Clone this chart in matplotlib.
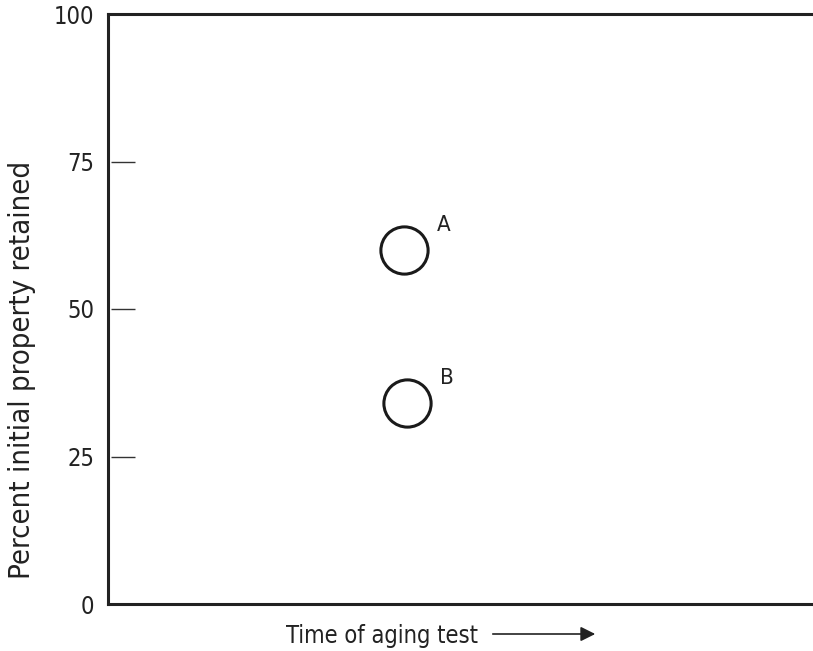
import matplotlib.pyplot as plt

plt.rcParams['font.family'] = ['DejaVu Sans']
plt.rcParams['font.stretch'] = 'condensed'

# data
labels = ["A", "B"]
time_pos = [4.1, 4.14]
retained = [60, 34]
yticks = [0, 25, 50, 75, 100]

fig = plt.figure(figsize=(8.13, 6.51), dpi=100)
ax = fig.add_axes([108 / 813, 1 - 604 / 651, 1 - 108 / 813 + 0.02, (604 - 14) / 651])

ax.plot(time_pos, retained, 'o', ms=34, mfc='none', mec='#1a1a1a', mew=2.2, clip_on=False)
for lab, x, y in zip(labels, time_pos, retained):
    ax.annotate(lab, (x, y), xytext=(29, 18), textcoords='offset points',
                fontsize=16, color='#222222', ha='center', va='center')

ax.set_xlim(0, 10)
ax.set_ylim(0, 100)
ax.set_xticks([])
ax.set_yticks(yticks)
ax.set_yticklabels([str(v) for v in yticks], fontsize=17, color='#222222')
ax.tick_params(axis='y', length=0, pad=10)

# short tick marks set off from the spine
ax.hlines(yticks[1:-1], 0.004, 0.038, transform=ax.get_yaxis_transform(),
          color='#333333', lw=1.0)

ax.spines['right'].set_visible(False)
for s in ['left', 'top', 'bottom']:
    ax.spines[s].set_linewidth(2.2)
    ax.spines[s].set_color('#222222')

fig.text(22 / 813, 1 - 370 / 651, "Percent initial property retained", rotation=90,
         ha='center', va='center', fontsize=21, color='#222222')
fig.text(478 / 813, 1 - 636 / 651, "Time of aging test", ha='right', va='center',
         fontsize=17, color='#222222')
ax.annotate('', xy=(598 / 813, 1 - 634 / 651), xytext=(490 / 813, 1 - 634 / 651),
            xycoords='figure fraction', textcoords='figure fraction',
            arrowprops=dict(arrowstyle='-|>', color='#222222', lw=1.2, mutation_scale=22))

fig.savefig('out.png', dpi=100)
